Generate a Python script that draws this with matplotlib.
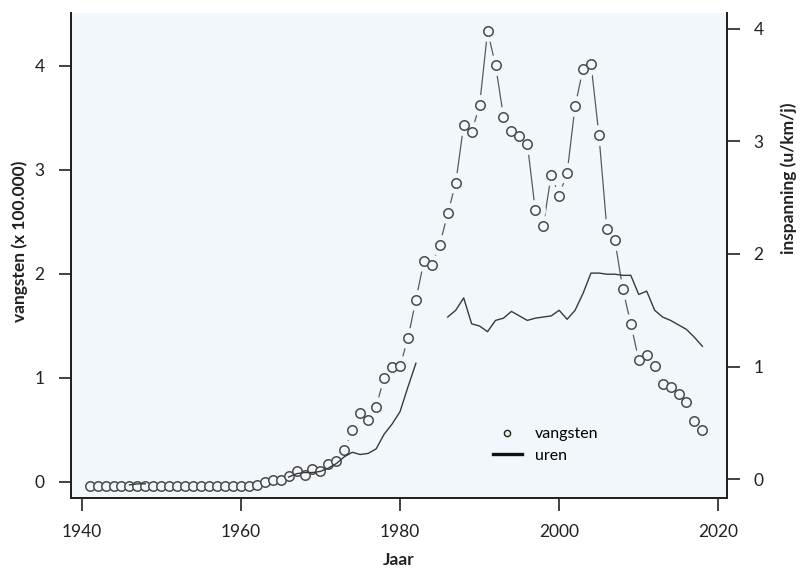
import matplotlib
matplotlib.use("Agg")
import matplotlib.pyplot as plt
import numpy as np
from matplotlib.lines import Line2D

BG = "#f2f7fc"
FONT = ["Lato", "DejaVu Sans"]

# vangsten (x 100.000), 1941-2018
jaar = list(range(1941, 2019))
vangsten = [
    -0.04, -0.04, -0.04, -0.04, -0.04, -0.04, -0.04, -0.04, -0.04, -0.04,
    -0.04, -0.04, -0.04, -0.04, -0.04, -0.04, -0.04, -0.04, -0.04, -0.04,
    -0.04, -0.03, 0.00, 0.02, 0.02, 0.05, 0.10, 0.06, 0.12, 0.10,
    0.17, 0.20, 0.30, 0.50, 0.66, 0.59, 0.72, 1.00, 1.10, 1.11,
    1.38, 1.75, 2.12, 2.08, 2.28, 2.58, 2.87, 3.43, 3.36, 3.62,
    4.33, 4.01, 3.51, 3.37, 3.32, 3.25, 2.61, 2.46, 2.95, 2.75,
    2.97, 3.61, 3.97, 4.02, 3.33, 2.43, 2.32, 1.85, 1.52, 1.17,
    1.22, 1.11, 0.94, 0.91, 0.84, 0.77, 0.58, 0.50,
]

# inspanning (uren/km/jaar), 1946-2018, None = geen gegevens
uren_jaar = list(range(1946, 2019))
uren = [
    -0.05, -0.04, -0.04,
    None, None, None, None, None, None, None, None, None,
    None, None, None, None, None, None, None, None,
    0.02, 0.05, 0.06, 0.06, 0.07, 0.10, 0.14, 0.20, 0.24, 0.22,
    0.23, 0.27, 0.40, 0.49, 0.60, 0.82, 1.03,
    None, None, None,
    1.44, 1.50, 1.61, 1.38, 1.36, 1.31, 1.41, 1.43, 1.49, 1.45,
    1.41, 1.43, 1.44, 1.45, 1.50, 1.42, 1.50, 1.65, 1.83, 1.83,
    1.82, 1.82, 1.81, 1.81, 1.64, 1.67, 1.50, 1.44, 1.41, 1.37,
    1.33, 1.26, 1.18,
]

x_ticks = [1940, 1960, 1980, 2000, 2020]
y_ticks = [0, 1, 2, 3, 4]


def main():
    plt.rcParams["font.family"] = FONT
    fig = plt.figure(figsize=(8.01, 5.82), dpi=100)
    ax = fig.add_axes([0.0886, 0.1443, 0.8190, 0.8334])
    ax.set_facecolor(BG)

    # vangsten: lijn met onderbrekingen rond de punten (type "b")
    ax.plot(jaar, vangsten, color="#5a5a5a", lw=0.9, zorder=2)
    ax.plot(jaar, vangsten, ls="none", marker="o", ms=15, mfc=BG, mec=BG,
            mew=0, zorder=3)
    ax.plot(jaar, vangsten, ls="none", marker="o", ms=6.8, mfc=BG,
            mec="#4a4a4a", mew=1.1, zorder=4)

    ax.set_xlim(1938.65, 2021.09)
    ax.set_ylim(-0.157, 4.507)
    ax.set_xticks(x_ticks)
    ax.set_yticks(y_ticks)

    ax2 = ax.twinx()
    uren_arr = np.array(uren, dtype=float)
    ax2.plot(uren_jaar, uren_arr, color="#3a3a3a", lw=1.0, zorder=5)
    ax2.set_ylim(-0.166, 4.138)
    ax2.set_yticks(y_ticks)

    for a in (ax, ax2):
        a.spines["top"].set_visible(False)
        for s in ("left", "right", "bottom"):
            a.spines[s].set_linewidth(1.4)
            a.spines[s].set_color("#222222")
        a.tick_params(length=9, width=1.2, color="#222222", pad=10,
                      labelsize=12.5, labelcolor="#222222")

    ax.set_xlabel("Jaar", fontsize=12.5, fontweight="bold", color="#222222")
    ax.xaxis.set_label_coords(0.5, -0.112)
    ax.set_ylabel("vangsten (x 100.000)", fontsize=12.5, fontweight="bold",
                  color="#222222")
    ax.yaxis.set_label_coords(-0.066, 0.53)
    ax2.set_ylabel("inspanning (u/km/j)", fontsize=12.5, fontweight="bold",
                   color="#222222", rotation=90)
    ax2.yaxis.set_label_coords(1.082, 0.66)

    handles = [
        Line2D([], [], ls="none", marker="o", ms=4.5, mfc="#eeeedd",
               mec="#222222", mew=1.0),
        Line2D([], [], color="#111111", lw=2.4),
    ]
    fig.legend(handles, ["vangsten", "uren"], loc="upper left",
               bbox_to_anchor=(493 / 801, 1 - 427 / 582), frameon=False,
               fontsize=11.5, borderpad=0, handlelength=1.8,
               handletextpad=0.8, labelspacing=0.45, borderaxespad=0)

    fig.savefig("out.png", dpi=100)
    plt.close(fig)


if __name__ == "__main__":
    main()
